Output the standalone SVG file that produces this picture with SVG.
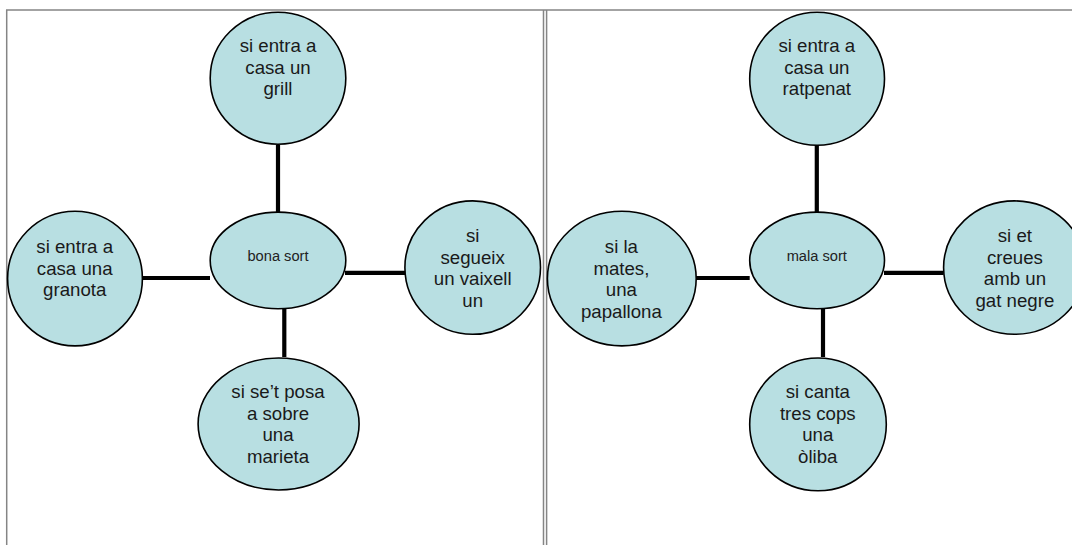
<svg xmlns="http://www.w3.org/2000/svg" width="1072" height="545" viewBox="0 0 1072 545">
<style>
.frame{stroke:#858585;stroke-width:1.5;fill:none}
.node{fill:#b8dfe2;stroke:#000;stroke-width:1.6}
.conn{stroke:#000;stroke-width:4.2;fill:none}
.t{font-family:"Liberation Sans",Arial,sans-serif;font-size:18.67px;fill:#1a1a1a;text-anchor:middle}
.c{font-family:"Liberation Sans",Arial,sans-serif;font-size:14.67px;fill:#222;text-anchor:middle}
</style>
<rect width="1072" height="545" fill="#fff"/>
<g id="frame">
<line class="frame" x1="6" y1="10" x2="1072" y2="10"/>
<line class="frame" x1="6.7" y1="10" x2="6.7" y2="545"/>
<line class="frame" x1="543.5" y1="10" x2="543.5" y2="545"/>
<line class="frame" x1="546.6" y1="10" x2="546.6" y2="545"/>
</g>
<g id="connectors">
<line class="conn" x1="278" y1="145" x2="278" y2="212"/>
<line class="conn" x1="143" y1="278" x2="210" y2="278"/>
<line class="conn" x1="345" y1="272.9" x2="405" y2="272.9"/>
<line class="conn" x1="284.3" y1="308" x2="284.3" y2="357"/>
<line class="conn" x1="816.8" y1="145" x2="816.8" y2="212"/>
<line class="conn" x1="696" y1="278" x2="749.7" y2="278"/>
<line class="conn" x1="884" y1="272.9" x2="943.6" y2="272.9"/>
<line class="conn" x1="823" y1="308" x2="823" y2="357"/>
</g>
<g id="bona-sort">
<ellipse class="node" cx="278" cy="260.4" rx="67.8" ry="48.3"/>
<text class="c" x="278" y="261.4">bona sort</text>
</g>
<g id="grill">
<ellipse class="node" cx="278" cy="78.2" rx="67.8" ry="66"/>
<text class="t" x="278" y="52.1">si entra a</text>
<text class="t" x="278" y="73.6">casa un</text>
<text class="t" x="278" y="95">grill</text>
</g>
<g id="granota">
<ellipse class="node" cx="75" cy="278.6" rx="67.4" ry="67.3"/>
<text class="t" x="74.7" y="253">si entra a</text>
<text class="t" x="74.7" y="274.5">casa una</text>
<text class="t" x="74.7" y="296">granota</text>
</g>
<g id="vaixell">
<ellipse class="node" cx="472.7" cy="267.6" rx="67.8" ry="66.7"/>
<text class="t" x="472.7" y="242.3">si</text>
<text class="t" x="472.7" y="263.8">segueix</text>
<text class="t" x="472.7" y="285.3">un vaixell</text>
<text class="t" x="472.7" y="306.8">un</text>
</g>
<g id="marieta">
<ellipse class="node" cx="278.6" cy="424" rx="80.5" ry="66"/>
<text class="t" x="278" y="398">si se’t posa</text>
<text class="t" x="278" y="419.5">a sobre</text>
<text class="t" x="278" y="441">una</text>
<text class="t" x="278" y="462.5">marieta</text>
</g>
<g id="mala-sort">
<ellipse class="node" cx="817.1" cy="260.4" rx="67.4" ry="48.3"/>
<text class="c" x="816.8" y="261.4">mala sort</text>
</g>
<g id="ratpenat">
<ellipse class="node" cx="817.1" cy="78.7" rx="67.4" ry="66.5"/>
<text class="t" x="816.8" y="52.1">si entra a</text>
<text class="t" x="816.8" y="73.6">casa un</text>
<text class="t" x="816.8" y="95">ratpenat</text>
</g>
<g id="papallona">
<ellipse class="node" cx="621.8" cy="278.6" rx="74.4" ry="67.3"/>
<text class="t" x="621.4" y="253">si la</text>
<text class="t" x="621.4" y="274.5">mates,</text>
<text class="t" x="621.4" y="296">una</text>
<text class="t" x="621.4" y="317.5">papallona</text>
</g>
<g id="gat-negre">
<ellipse class="node" cx="1014.5" cy="267.6" rx="70.9" ry="66.7"/>
<text class="t" x="1014.9" y="242.3">si et</text>
<text class="t" x="1014.9" y="263.8">creues</text>
<text class="t" x="1014.9" y="285.3">amb un</text>
<text class="t" x="1014.9" y="306.8">gat negre</text>
</g>
<g id="oliba">
<ellipse class="node" cx="818" cy="424.4" rx="68.3" ry="66.4"/>
<text class="t" x="817.8" y="398">si canta</text>
<text class="t" x="817.8" y="419.5">tres cops</text>
<text class="t" x="817.8" y="441">una</text>
<text class="t" x="817.8" y="462.5">òliba</text>
</g>
</svg>
